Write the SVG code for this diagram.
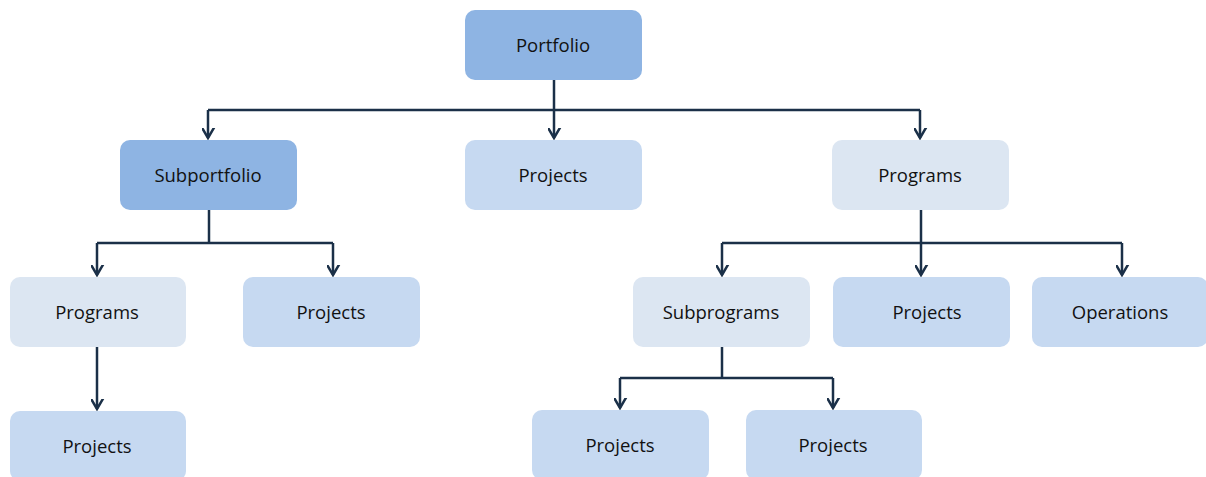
<svg xmlns="http://www.w3.org/2000/svg" width="1206" height="477" viewBox="0 0 1206 477">
<style>
.n rect{rx:10;ry:10}
.dark{fill:#8EB4E3}
.proj{fill:#C6D9F1}
.prog{fill:#DCE6F2}
text{font-family:"Open Sans","Liberation Sans",Arial,sans-serif;font-size:18.5px;fill:#111;text-anchor:middle;dominant-baseline:central}
.c path{fill:none;stroke:#1B3048;stroke-width:2.5}
</style>
<defs>
<marker id="ah" markerUnits="userSpaceOnUse" markerWidth="20" markerHeight="20" refX="10" refY="14" orient="auto" viewBox="0 0 20 20">
<path d="M3,2 L10,14 L17,2" transform="rotate(-90 10 14)" fill="none" stroke="#1B3048" stroke-width="2.5"/>
</marker>
</defs>
<rect width="1206" height="477" fill="#fff"/>
<g class="c">
<path d="M554,80 V110"/>
<path d="M208,110 H920"/>
<path d="M208,110 V138" marker-end="url(#ah)"/>
<path d="M554,110 V138" marker-end="url(#ah)"/>
<path d="M920,110 V138" marker-end="url(#ah)"/>
<path d="M209,210 V243"/>
<path d="M97,243 H333"/>
<path d="M97,243 V275" marker-end="url(#ah)"/>
<path d="M333,243 V275" marker-end="url(#ah)"/>
<path d="M921,210 V243"/>
<path d="M722,243 H1122"/>
<path d="M722,243 V275" marker-end="url(#ah)"/>
<path d="M921,243 V275" marker-end="url(#ah)"/>
<path d="M1122,243 V275" marker-end="url(#ah)"/>
<path d="M97,347 V409" marker-end="url(#ah)"/>
<path d="M722,347 V378"/>
<path d="M620,378 H833"/>
<path d="M620,378 V408" marker-end="url(#ah)"/>
<path d="M833,378 V408" marker-end="url(#ah)"/>
</g>
<g id="portfolio" class="n"><rect class="dark" x="465" y="10" width="177" height="70"/><text x="553" y="44">Portfolio</text></g>
<g id="subportfolio" class="n"><rect class="dark" x="120" y="140" width="177" height="70"/><text x="208" y="174">Subportfolio</text></g>
<g id="projects1" class="n"><rect class="proj" x="465" y="140" width="177" height="70"/><text x="553" y="174">Projects</text></g>
<g id="programs1" class="n"><rect class="prog" x="832" y="140" width="177" height="70"/><text x="920" y="174">Programs</text></g>
<g id="programs2" class="n"><rect class="prog" x="10" y="277" width="176" height="70"/><text x="97" y="311">Programs</text></g>
<g id="projects2" class="n"><rect class="proj" x="243" y="277" width="177" height="70"/><text x="331" y="311">Projects</text></g>
<g id="subprograms" class="n"><rect class="prog" x="633" y="277" width="177" height="70"/><text x="721" y="311">Subprograms</text></g>
<g id="projects3" class="n"><rect class="proj" x="833" y="277" width="177" height="70"/><text x="927" y="311">Projects</text></g>
<g id="operations" class="n"><rect class="proj" x="1032" y="277" width="176" height="70"/><text x="1120" y="311">Operations</text></g>
<g id="projects4" class="n"><rect class="proj" x="10" y="411" width="176" height="70"/><text x="97" y="445">Projects</text></g>
<g id="projects5" class="n"><rect class="proj" x="532" y="410" width="177" height="70"/><text x="620" y="444">Projects</text></g>
<g id="projects6" class="n"><rect class="proj" x="746" y="410" width="176" height="70"/><text x="833" y="444">Projects</text></g>
</svg>
